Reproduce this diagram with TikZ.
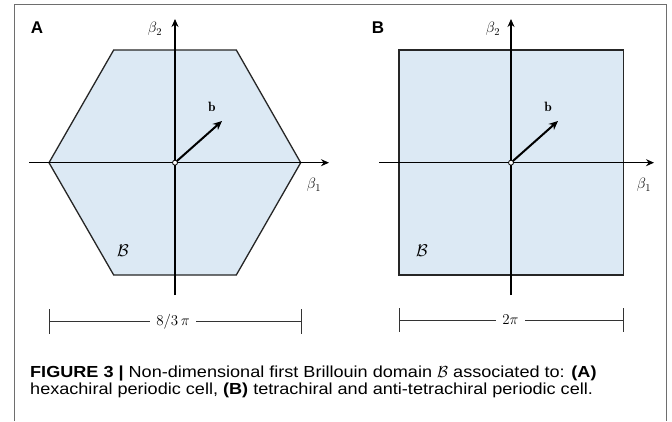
\RequirePackage{fix-cm}
\documentclass[tikz,border=0pt]{standalone}
\usepackage{fontspec}
\setsansfont{Liberation Sans}
\newfontfamily\capfont[FakeStretch=1.13]{Liberation Sans}
\usetikzlibrary{arrows.meta}
\definecolor{zonefill}{RGB}{220,233,244}
\definecolor{framegray}{RGB}{110,110,110}
\begin{document}
\begin{tikzpicture}[x=1pt,y=-1pt,
  axis/.style={line width=1.1pt,-{Stealth[length=8pt,width=7pt]}},
  zone/.style={fill=zonefill,draw=black!85,line width=1.3pt,line join=miter},
  vecarrow/.style={line width=2pt,-{Stealth[length=9pt,width=8pt]}},
  originpt/.style={circle,draw,fill=white,inner sep=0pt,minimum size=5pt,line width=0.8pt},
  dimline/.style={line width=0.7pt,draw=black!80},
  dimlabel/.style={fill=white,inner xsep=6pt,inner ysep=1pt,font=\fontsize{15}{17}\selectfont},
  betalabel/.style={font=\fontsize{15}{17}\selectfont},
  veclabel/.style={font=\fontsize{13.5}{15}\selectfont},
  zonelabel/.style={font=\fontsize{17}{19}\selectfont},
  panel/.style={font=\fontsize{17}{19}\selectfont\sffamily\bfseries},
  caption/.style={anchor=west,inner sep=0pt,font=\fontsize{16}{18}\selectfont\capfont}
]
\useasboundingbox (0,0) rectangle (672,421);
\fill[white] (0,0) rectangle (672,421);
% frame
\draw[framegray,line width=1pt] (14,421) -- (14,4) -- (666,4) -- (666,421);

% ---------------- Panel A ----------------
\coordinate (oA) at (175,162.7);
\coordinate (h1) at (49,162.7);
\coordinate (h2) at (113.7,50);
\coordinate (h3) at (236.3,50);
\coordinate (h4) at (300.7,162.7);
\coordinate (h5) at (236.3,275);
\coordinate (h6) at (113.7,275);
\draw[zone] (h1) -- (h2) -- (h3) -- (h4) -- (h5) -- (h6) -- cycle;
\coordinate (axAl) at (29,162.7);
\coordinate (axAr) at (329,162.7);
\coordinate (axAb) at (175,295);
\coordinate (axAt) at (175,19);
\draw[axis] (axAl) -- (axAr);
\draw[axis] (axAb) -- (axAt);
\coordinate (bA) at (222,121);
\draw[vecarrow] (oA) -- (bA);
\node[originpt] (oAn) at (oA) {};
\node[betalabel] (b2A) at (155,29) {$\beta_2$};
\node[betalabel] (b1A) at (314,185) {$\beta_1$};
\node[veclabel] (vA) at (212,107) {$\mathbf{b}$};
\node[zonelabel] (zA) at (123,251) {$\mathcal{B}$};
\node[panel] (pA) at (37,28) {A};
% dimension A
\coordinate (dAl) at (49,321.7);
\coordinate (dAr) at (301,321.7);
\draw[dimline] (49,309) -- (49,334);
\draw[dimline] (301,309) -- (301,334);
\draw[dimline] (dAl) -- (dAr);
\node[dimlabel] (lA) at (173,321.7) {$8/3\,\pi$};

% ---------------- Panel B ----------------
\coordinate (oB) at (511,162.7);
\draw[zone] (399,50) rectangle (623.3,275);
\coordinate (axBl) at (379,162.7);
\coordinate (axBr) at (654,162.7);
\coordinate (axBb) at (511,295);
\coordinate (axBt) at (511,19);
\draw[axis] (axBl) -- (axBr);
\draw[axis] (axBb) -- (axBt);
\coordinate (bB) at (558,121);
\draw[vecarrow] (oB) -- (bB);
\node[originpt] (oBn) at (oB) {};
\node[betalabel] (b2B) at (493,29) {$\beta_2$};
\node[betalabel] (b1B) at (644,185) {$\beta_1$};
\node[veclabel] (vB) at (548,107) {$\mathbf{b}$};
\node[zonelabel] (zB) at (422,251) {$\mathcal{B}$};
\node[panel] (pB) at (378,28) {B};
% dimension B
\coordinate (dBl) at (399,320);
\coordinate (dBr) at (623.3,320);
\draw[dimline] (399,308) -- (399,332);
\draw[dimline] (623.3,308) -- (623.3,332);
\draw[dimline] (dBl) -- (dBr);
\node[dimlabel] (lB) at (510.5,320) {$2\pi$};

% ---------------- Caption ----------------
\node[caption] (cap1) at (30,373) {\textbf{FIGURE 3 |} Non-dimensional first Brillouin domain $\mathcal{B}$ associated to: \textbf{(A)}};
\node[caption] (cap2) at (30,390.5) {hexachiral periodic cell, \textbf{(B)} tetrachiral and anti-tetrachiral periodic cell.};
\end{tikzpicture}
\end{document}
